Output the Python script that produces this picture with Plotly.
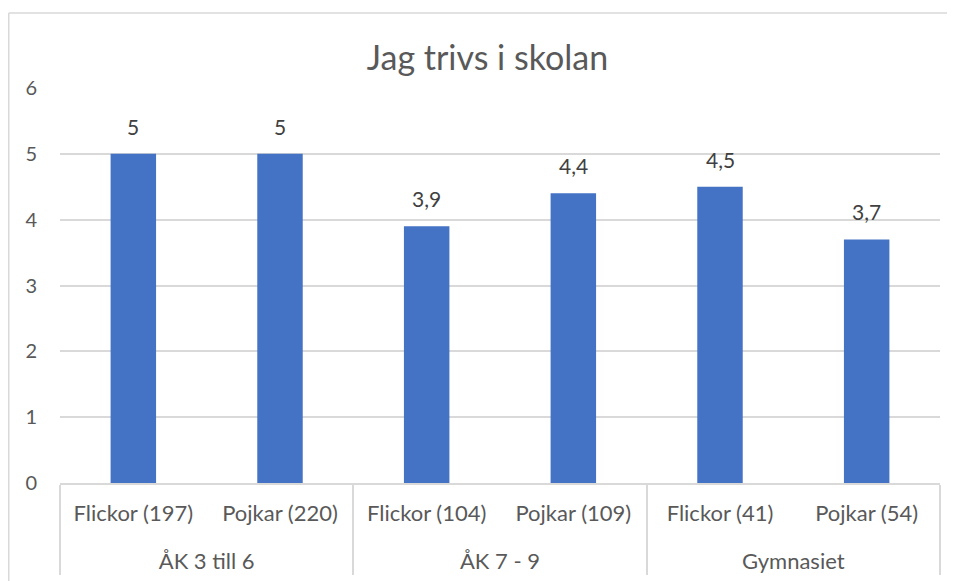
import plotly.graph_objects as go

groups = ["ÅK 3 till 6", "ÅK 3 till 6", "ÅK 7 - 9", "ÅK 7 - 9", "Gymnasiet", "Gymnasiet"]
categories = ["Flickor (197)", "Pojkar (220)", "Flickor (104)", "Pojkar (109)", "Flickor (41)", "Pojkar (54)"]
values = [5, 5, 3.9, 4.4, 4.5, 3.7]
y_ticks = [0, 1, 2, 3, 4, 5, 6]

TXT = "#595959"
GRID = "#d9d9d9"
FONT = "Lato"

fig = go.Figure()
fig.add_trace(go.Bar(
    x=[["<br>" + g for g in groups], categories],
    y=values,
    marker=dict(color="#4472C4", line=dict(width=0)),
    hoverinfo="skip",
))

for i, v in enumerate(values):
    fig.add_annotation(
        x=i, y=v, text=f"{v:g}".replace(".", ","),
        showarrow=False, yanchor="bottom", yshift=13,
        font=dict(family=FONT, size=21, color="#404040"),
    )

W, H = 947, 573
L, R, T, B = 52, 15, 80, 98
pw, ph = W - L - R, H - T - B

top_y = 1 + (T - 5) / ph
left_x = (0.75 - L) / pw
fig.add_shape(type="line", xref="paper", yref="paper",
              x0=left_x, x1=(W - L) / pw, y0=top_y, y1=top_y,
              line=dict(color=GRID, width=1.5), layer="below")
fig.add_shape(type="line", xref="paper", yref="paper",
              x0=left_x, x1=left_x, y0=top_y, y1=-B / ph,
              line=dict(color=GRID, width=1.5), layer="below")

fig.update_layout(
    width=W, height=H,
    margin=dict(l=L, r=R, t=T, b=B, autoexpand=False),
    paper_bgcolor="white", plot_bgcolor="white",
    separators=", ",
    showlegend=False,
    bargap=0.69,
    title=dict(text="Jag trivs i skolan", x=479.5 / W, xref="container", xanchor="center",
               y=1 - 50 / H, yref="container", yanchor="middle",
               font=dict(family=FONT, size=34, color=TXT)),
    font=dict(family=FONT, color=TXT),
)
fig.update_yaxes(range=[0, 6], tickvals=y_ticks, showgrid=True, gridcolor=GRID, gridwidth=1.5,
                 zeroline=False, showline=False, ticks="", ticklabelstandoff=22, automargin=False,
                 tickfont=dict(family=FONT, size=20, color=TXT))
fig.update_xaxes(type="multicategory", showline=True, linecolor=GRID, linewidth=1.5,
                 showdividers=True, dividercolor=GRID, dividerwidth=1.5, automargin=False,
                 ticks="", ticklabelstandoff=10, tickfont=dict(family=FONT, size=22, color=TXT))

fig.write_html("out.html")
